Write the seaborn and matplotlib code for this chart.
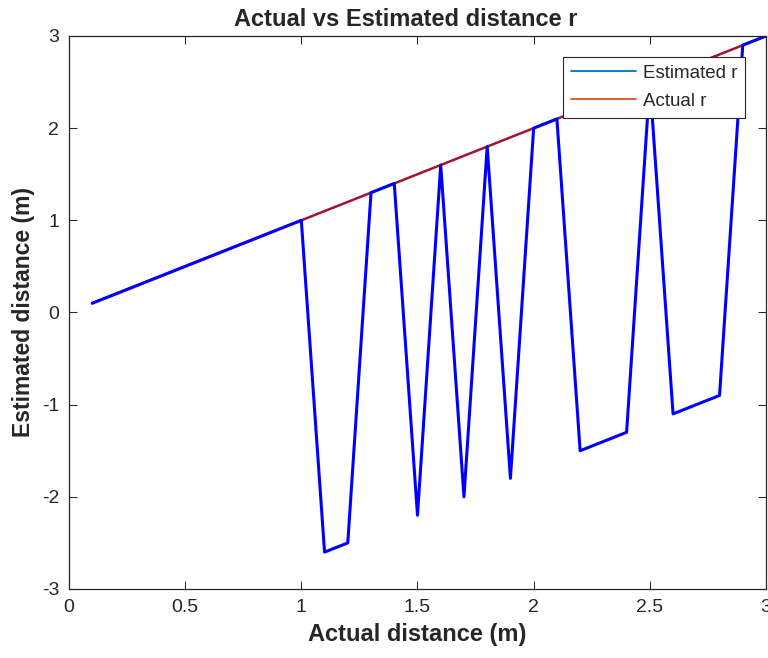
import matplotlib
matplotlib.use("Agg")
import matplotlib.pyplot as plt
import seaborn as sns
import pandas as pd
from matplotlib.lines import Line2D

# distances in metres
actual_distance = [0.1, 0.2, 0.3, 0.4, 0.5, 0.6, 0.7, 0.8, 0.9, 1.0,
                   1.1, 1.2, 1.3, 1.4, 1.5, 1.6, 1.7, 1.8, 1.9, 2.0,
                   2.1, 2.2, 2.3, 2.4, 2.5, 2.6, 2.7, 2.8, 2.9, 3.0]
estimated_distance = [0.1, 0.2, 0.3, 0.4, 0.5, 0.6, 0.7, 0.8, 0.9, 1.0,
                      -2.6, -2.5, 1.3, 1.4, -2.2, 1.6, -2.0, 1.8, -1.8, 2.0,
                      2.1, -1.5, -1.4, -1.3, 2.5, -1.1, -1.0, -0.9, 2.9, 3.0]
x_ticks = [0, 0.5, 1, 1.5, 2, 2.5, 3]
x_tick_labels = ["0", "0.5", "1", "1.5", "2", "2.5", "3"]
y_ticks = [-3, -2, -1, 0, 1, 2, 3]
y_tick_labels = ["-3", "-2", "-1", "0", "1", "2", "3"]

df = pd.DataFrame({"actual": actual_distance, "estimated": estimated_distance})

sns.set_style("ticks")
plt.rcParams['font.family'] = ['Liberation Sans', 'DejaVu Sans']

fig = plt.figure(figsize=(7.68, 6.58), dpi=100)
ax = fig.add_axes([0.0898, 0.1049, 0.9076, 0.8404])

sns.lineplot(data=df, x="actual", y="actual", ax=ax, color="#A2142F", linewidth=1.8)
sns.lineplot(data=df, x="actual", y="estimated", ax=ax, color="#0000FF", linewidth=2.2)

ax.set_xlim(0, 3)
ax.set_ylim(-3, 3)
ax.set_xticks(x_ticks)
ax.set_xticklabels(x_tick_labels)
ax.set_yticks(y_ticks)
ax.set_yticklabels(y_tick_labels)
ax.tick_params(direction="in", length=6, width=0.75, color="#262626",
               labelsize=14, labelcolor="#262626", top=True, right=True, pad=7)
for s in ax.spines.values():
    s.set_visible(True)
    s.set_linewidth(0.9)
    s.set_color("#262626")

ax.set_xlabel("Actual distance (m)", fontsize=17, fontweight="bold", labelpad=5)
ax.set_ylabel("Estimated distance (m)", fontsize=16.5, fontweight="bold", labelpad=5)
ax.set_title("Actual vs Estimated distance r", fontsize=17, fontweight="bold",
             pad=7, x=0.4835)

handles = [Line2D([], [], color="#0072BD", linewidth=1.3),
           Line2D([], [], color="#D95319", linewidth=1.3)]
leg = ax.legend(handles, ["Estimated r", "Actual r"], loc="upper right",
                bbox_to_anchor=(0.970, 0.962), borderaxespad=0, fontsize=13.5,
                handlelength=3.5, handletextpad=0.35, labelspacing=0.56,
                borderpad=0.42, fancybox=False, framealpha=1, edgecolor="#262626")
leg.get_frame().set_linewidth(0.8)

fig.savefig("out.png", dpi=100)
